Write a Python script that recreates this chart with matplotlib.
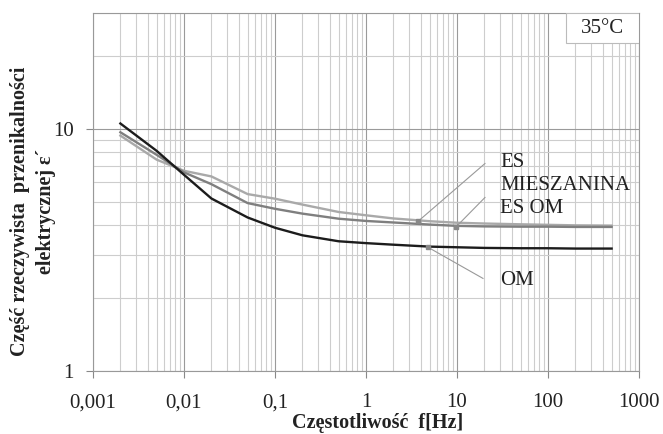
import matplotlib
matplotlib.use("Agg")
from matplotlib import pyplot as plt
from matplotlib.patches import Rectangle
from matplotlib.ticker import LogLocator, FixedLocator, FixedFormatter, NullFormatter

plt.rcParams["font.family"] = ["Liberation Serif", "DejaVu Serif"]

# frequency points [Hz]
freq = [0.002, 0.005, 0.01, 0.02, 0.05, 0.1, 0.2, 0.5, 1, 2, 5, 10, 20, 50, 100, 200, 500]

eps_om = [10.5, 8.1, 6.45, 5.15, 4.3, 3.9, 3.63, 3.43, 3.37, 3.32, 3.26, 3.24, 3.22, 3.21, 3.21, 3.2, 3.2]
eps_es_om = [9.66, 7.8, 6.6, 5.9, 4.93, 4.67, 4.46, 4.25, 4.16, 4.1, 4.02, 3.97, 3.95, 3.94, 3.94, 3.93, 3.93]
eps_es_mix = [9.36, 7.45, 6.7, 6.35, 5.37, 5.14, 4.86, 4.53, 4.39, 4.26, 4.15, 4.09, 4.06, 4.03, 4.01, 3.99, 3.98]

x_ticks = [0.001, 0.01, 0.1, 1, 10, 100, 1000]
x_tick_labels = ["0,001", "0,01", "0,1", "1", "10", "100", "1000"]
y_ticks = [1, 10]
y_tick_labels = ["1", "10"]

# curve labels on the right and their anchor points
labels = ["ES", "MIESZANINA", "ES OM", "OM"]
label_pos = [(29.7, 7.25), (29.7, 5.83), (29.7, 4.69), (29.7, 2.37)]
# leader lines: start point on the curve -> end near the label
leader_from = [(3.72, 4.14), (9.75, 3.93), (4.8, 3.24)]
leader_to = [(20.3, 7.18), (20.3, 5.2), (19.3, 2.41)]

fig = plt.figure(figsize=(6.63, 4.34), dpi=100)
ax = fig.add_axes([93 / 663, 1 - 371 / 434, 546 / 663, 358 / 434])

ax.plot(freq, eps_es_mix, color="#a9a9a9", linewidth=1.7, zorder=3)
ax.plot(freq, eps_es_om, color="#7f7f7f", linewidth=1.7, zorder=3)
ax.plot(freq, eps_om, color="#1c1c1c", linewidth=1.7, zorder=4)

ax.set_xscale("log")
ax.set_yscale("log")
ax.set_xlim(0.001, 1000)
ax.set_ylim(1, 30)

ax.xaxis.set_major_locator(FixedLocator(x_ticks))
ax.xaxis.set_major_formatter(FixedFormatter(x_tick_labels))
ax.xaxis.set_minor_locator(LogLocator(base=10, subs=range(2, 10), numticks=20))
ax.xaxis.set_minor_formatter(NullFormatter())
ax.yaxis.set_major_locator(FixedLocator(y_ticks))
ax.yaxis.set_major_formatter(FixedFormatter(y_tick_labels))
ax.yaxis.set_minor_locator(LogLocator(base=10, subs=range(2, 10), numticks=20))
ax.yaxis.set_minor_formatter(NullFormatter())

ax.grid(True, which="major", color="#9a9a9a", linewidth=0.8)
ax.grid(True, which="minor", color="#cdcdcd", linewidth=0.8)
ax.set_axisbelow(True)

ax.tick_params(which="major", length=5, width=0.8, color="#888888", labelsize=15, labelcolor="#222222")
ax.tick_params(axis="x", pad=11)
ax.tick_params(axis="y", pad=9)
ax.tick_params(which="minor", length=0)
for s in ax.spines.values():
    s.set_color("#999999")
    s.set_linewidth(0.8)

for text, (tx, ty) in zip(labels, label_pos):
    ax.text(tx, ty, text, fontsize=15, va="center", ha="left", color="#222222")
for p0, p1 in zip(leader_from, leader_to):
    ax.plot([p0[0], p1[0]], [p0[1], p1[1]], color="#999999", linewidth=0.8, zorder=5)
    ax.plot(p0[0], p0[1], marker="s", markersize=3, color="#888888", zorder=6)

ax.add_patch(Rectangle((0.866, 0.916), 0.134, 0.084, transform=ax.transAxes,
                       facecolor="white", edgecolor="#bbbbbb", linewidth=0.8, zorder=7))
ax.text(0.933, 0.958, "35°C", transform=ax.transAxes, fontsize=15, ha="center", va="center",
        color="#222222", zorder=8)

fig.text(378 / 663, 1 - 423 / 434, "Częstotliwość  f[Hz]", fontsize=14.5, fontweight="bold",
         ha="center", va="center", color="#222222")
fig.text(20 / 663, 1 - 211 / 434, "Część rzeczywista  przenikalności", fontsize=14.5,
         fontweight="bold", rotation=90, ha="center", va="center", color="#222222")
fig.text(46 / 663, 1 - 211 / 434, "elektrycznej ε´", fontsize=14.5,
         fontweight="bold", rotation=90, ha="center", va="center", color="#222222")

fig.savefig("out.png", dpi=100)
